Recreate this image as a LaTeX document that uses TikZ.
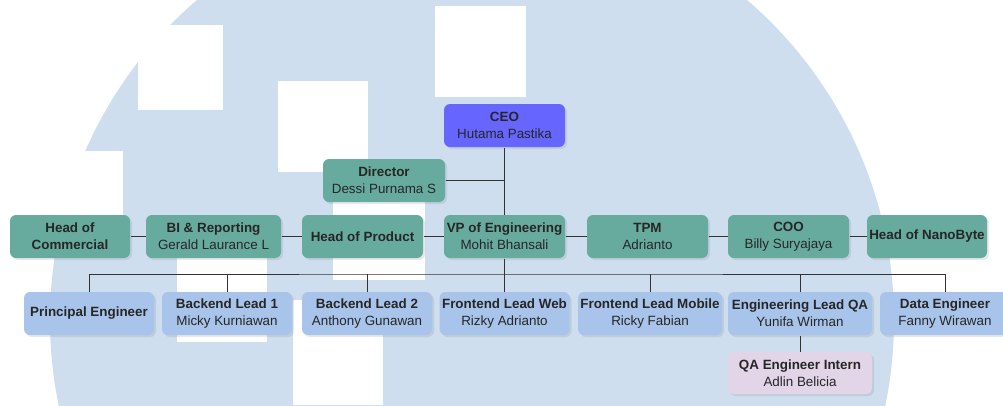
\documentclass[tikz,border=0pt]{standalone}
\usepackage{fontspec}
\setmainfont{Liberation Sans}
\usepackage{tikz}
\usetikzlibrary{shadows}
\definecolor{wash}{RGB}{206, 222, 238}
\definecolor{chief}{RGB}{102, 102, 255}
\definecolor{board}{RGB}{103, 171, 159}
\definecolor{staff}{RGB}{169, 196, 235}
\definecolor{trainee}{RGB}{225, 213, 231}
\definecolor{wire}{RGB}{51, 51, 51}

\begin{document}
\begin{tikzpicture}[x=1pt, y=-1pt, line width=1pt,
    box/.style={rounded corners=6pt, inner sep=0pt, minimum height=43pt, align=center,
      font=\fontsize{13.4}{17}\selectfont, text=black!85,
      drop shadow={shadow xshift=2pt, shadow yshift=-2pt, opacity=0.18}},
    chiefbox/.style={box, fill=chief},
    boardbox/.style={box, fill=board},
    staffbox/.style={box, fill=staff},
    traineebox/.style={box, fill=trainee, minimum height=42pt},
    link/.style={draw=wire}]

  \useasboundingbox (0, 0) rectangle (1003, 405);

  % watermark
  \fill[wash] (472, 320) circle (422pt);
  \foreach \xa/\ya/\xb/\yb in {0/151/123/245, 138/25/223/110, 278/81/368/172, 435/6/526/97,
                                333/185/425/280, 177/235/267/342, 293/300/383/405} {
    \fill[white] (\xa, \ya) rectangle (\xb, \yb);
  }

  % top
  \node[chiefbox, minimum width=121pt] (ceo) at (504.5, 125.5) {\textbf{CEO}\\Hutama Pastika};
  \node[boardbox, minimum width=122pt] (director) at (384, 180.5) {\textbf{Director}\\Dessi Purnama S};

  % heads
  \node[boardbox, minimum width=120pt] (commercial) at (70, 236.5) {\textbf{Head of}\\\textbf{Commercial}};
  \node[boardbox, minimum width=135pt] (bi) at (213.5, 236.5) {\textbf{BI \& Reporting}\\Gerald Laurance L};
  \node[boardbox, minimum width=121pt] (product) at (362.5, 236.5) {\textbf{Head of Product}};
  \node[boardbox, minimum width=121pt] (vp) at (504.5, 236.5) {\textbf{VP of Engineering}\\Mohit Bhansali};
  \node[boardbox, minimum width=121pt] (tpm) at (647.5, 236.5) {\textbf{TPM}\\Adrianto};
  \node[boardbox, minimum width=121pt] (coo) at (788.5, 236.5) {\textbf{COO}\\Billy Suryajaya};
  \node[boardbox, minimum width=120pt] (nanobyte) at (927, 236.5) {\textbf{Head of NanoByte}};

  % engineering
  \node[staffbox, minimum width=130pt] (principal) at (89, 313.5) {\textbf{Principal Engineer}};
  \node[staffbox, minimum width=130pt] (backend1) at (227, 313.5) {\textbf{Backend Lead 1}\\Micky Kurniawan};
  \node[staffbox, minimum width=130pt] (backend2) at (367, 313.5) {\textbf{Backend Lead 2}\\Anthony Gunawan};
  \node[staffbox, minimum width=130pt] (fweb) at (504.5, 313.5) {\textbf{Frontend Lead Web}\\Rizky Adrianto};
  \node[staffbox, minimum width=144pt] (fmobile) at (650, 313.5) {\textbf{Frontend Lead Mobile}\\Ricky Fabian};
  \node[staffbox, minimum width=144pt] (qalead) at (800, 313.5) {\textbf{Engineering Lead QA}\\Yunifa Wirman};
  \node[staffbox, minimum width=130pt] (data) at (945, 313.5) {\textbf{Data Engineer}\\Fanny Wirawan};
  \node[traineebox, minimum width=144pt] (qaintern) at (800, 373) {\textbf{QA Engineer Intern}\\Adlin Belicia};

  % lines
  \draw[link] (ceo) -- (vp);
  \draw[link] (director) -- (director -| ceo);
  \foreach \a/\b in {commercial/bi, bi/product, product/vp, vp/tpm, tpm/coo, coo/nanobyte} {
    \draw[link] (\a) -- (\b);
  }
  \coordinate (bus) at (504.5, 274);
  \draw[link] (vp) -- (fweb);
  \draw[link] (principal.north) |- (bus) -| (data.north);
  \foreach \n in {backend1, backend2, fmobile, qalead} {
    \draw[link] (\n.north) -- (\n.north |- bus);
  }
  \draw[link] (qalead) -- (qaintern);

\end{tikzpicture}
\end{document}
